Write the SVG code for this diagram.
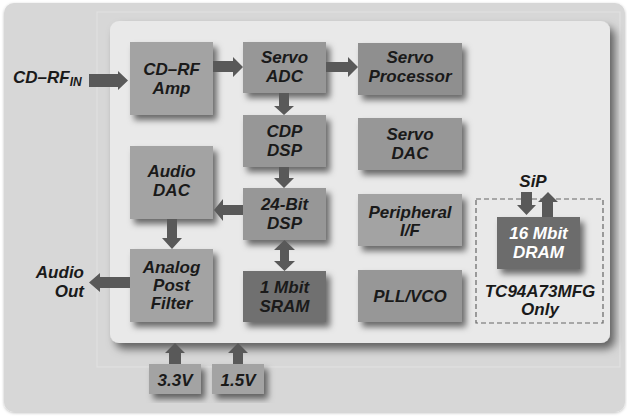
<svg xmlns="http://www.w3.org/2000/svg" width="627" height="416" viewBox="0 0 627 416">
<defs>
<filter id="sh" x="-20%" y="-20%" width="150%" height="150%">
<feDropShadow dx="4" dy="5" stdDeviation="3" flood-color="#000" flood-opacity="0.55"/>
</filter>
<filter id="psh" x="-10%" y="-10%" width="120%" height="125%">
<feDropShadow dx="5" dy="6" stdDeviation="4" flood-color="#000" flood-opacity="0.55"/>
</filter>
<filter id="osh" x="-5%" y="-5%" width="110%" height="110%">
<feDropShadow dx="0" dy="1" stdDeviation="1.5" flood-color="#000" flood-opacity="0.25"/>
</filter>
</defs>
<style>
.bx{fill:#a3a3a3;filter:url(#sh)}
.bm{fill:#979797;filter:url(#sh)}
.bd{fill:#6c6c6c;filter:url(#sh)}
.t{font-family:"Liberation Sans",Arial,sans-serif;font-weight:bold;font-style:italic;font-size:17px;fill:#1a1a1a;text-anchor:middle}
.w{fill:#ffffff}
.ar{fill:#595959}
</style>
<rect x="4" y="3" width="621" height="409" rx="10" fill="#d7d7d7" filter="url(#osh)"/>
<rect x="97" y="12" width="523" height="355" fill="none" stroke="#e2e2e2" stroke-width="1"/>
<rect x="110" y="21" width="500" height="322" rx="9" fill="#e9e9e9" filter="url(#psh)"/>
<rect x="476" y="199" width="127" height="124" fill="none" stroke="#666" stroke-width="1.2" stroke-dasharray="5,3"/>

<g id="cdrf-amp"><rect class="bx" x="130" y="42" width="83" height="73"/><text class="t" x="171.5" y="75">CD–RF</text><text class="t" x="171.5" y="94">Amp</text></g>
<g id="servo-adc"><rect class="bm" x="243" y="42" width="83" height="51"/><text class="t" x="284.5" y="63">Servo</text><text class="t" x="284.5" y="82">ADC</text></g>
<g id="servo-processor"><rect class="bm" x="358" y="43" width="104" height="52" style="fill:#8f8f8f"/><text class="t" x="410" y="63">Servo</text><text class="t" x="410" y="82">Processor</text></g>
<g id="cdp-dsp"><rect class="bm" x="243" y="115" width="83" height="52"/><text class="t" x="284.5" y="137">CDP</text><text class="t" x="284.5" y="156">DSP</text></g>
<g id="servo-dac"><rect class="bm" x="358" y="118" width="104" height="52"/><text class="t" x="410" y="140">Servo</text><text class="t" x="410" y="159">DAC</text></g>
<g id="audio-dac"><rect class="bx" x="130" y="146" width="83" height="73"/><text class="t" x="171.5" y="177">Audio</text><text class="t" x="171.5" y="196">DAC</text></g>
<g id="dsp24"><rect class="bm" x="243" y="188" width="83" height="52"/><text class="t" x="284.5" y="210">24-Bit</text><text class="t" x="284.5" y="229">DSP</text></g>
<g id="peripheral"><rect class="bx" x="358" y="194" width="104" height="52"/><text class="t" x="410" y="218">Peripheral</text><text class="t" x="410" y="236">I/F</text></g>
<g id="analog-post-filter"><rect class="bx" x="130" y="249" width="83" height="73"/><text class="t" x="171.5" y="273">Analog</text><text class="t" x="171.5" y="291">Post</text><text class="t" x="171.5" y="309">Filter</text></g>
<g id="sram"><rect class="bd" x="243" y="271" width="83" height="51" style="fill:#707070"/><text class="t" x="284.5" y="293">1 Mbit</text><text class="t" x="284.5" y="312">SRAM</text></g>
<g id="pll-vco"><rect class="bm" x="358" y="270" width="104" height="52"/><text class="t" x="410" y="302">PLL/VCO</text></g>
<g id="dram"><rect class="bd" x="497" y="217" width="83" height="52"/><text class="t w" x="538.5" y="239">16 Mbit</text><text class="t w" x="538.5" y="258">DRAM</text></g>
<g id="sip-label"><text class="t" x="533" y="187">SiP</text><text class="t" x="540" y="297">TC94A73MFG</text><text class="t" x="540" y="315">Only</text></g>
<g id="v33"><rect class="bx" x="149" y="364" width="52" height="30"/><text class="t" x="175" y="386">3.3V</text></g>
<g id="v15"><rect class="bx" x="212" y="364" width="52" height="30"/><text class="t" x="238" y="386">1.5V</text></g>
<g id="cdrf-in"><text class="t" x="13" y="83" style="text-anchor:start">CD–RF<tspan font-size="12" dy="3">IN</tspan></text></g>
<g id="audio-out"><text class="t" x="84" y="278" style="text-anchor:end">Audio</text><text class="t" x="84" y="297" style="text-anchor:end">Out</text></g>

<g id="connectors" class="ar">
<polygon points="89,74 118,74 118,71 128,80.5 118,90 118,87 89,87"/>
<polygon points="213,61 233,61 233,57 243,67 233,77 233,72 213,72"/>
<polygon points="326,62 348,62 348,57 358,67 348,77 348,72 326,72"/>
<polygon points="279,93 289,93 289,106 294,106 284,115 274,106 279,106"/>
<polygon points="279,167 289,167 289,178 294,178 284,188 274,178 279,178"/>
<polygon points="243,205 223,205 223,199 214,210 223,221 223,215 243,215"/>
<polygon points="167,219 177,219 177,238 182,238 172,249 162,238 167,238"/>
<polygon points="284.5,240 295,250 289,250 289,261 295,261 284.5,271 274,261 280,261 280,250 274,250"/>
<polygon points="130,277 100,277 100,273 89,282.5 100,292 100,288 130,288"/>
<polygon points="169,364 181,364 181,353 185,353 175,343 165,353 169,353"/>
<polygon points="233,364 243,364 243,353 248,353 238,343 228,353 233,353"/>
<polygon points="521,192 532,192 532,205 536,205 526.5,215 517,205 521,205"/>
<polygon points="542,217 553,217 553,202 558,202 548,192 538,202 542,202"/>
</g>
</svg>
